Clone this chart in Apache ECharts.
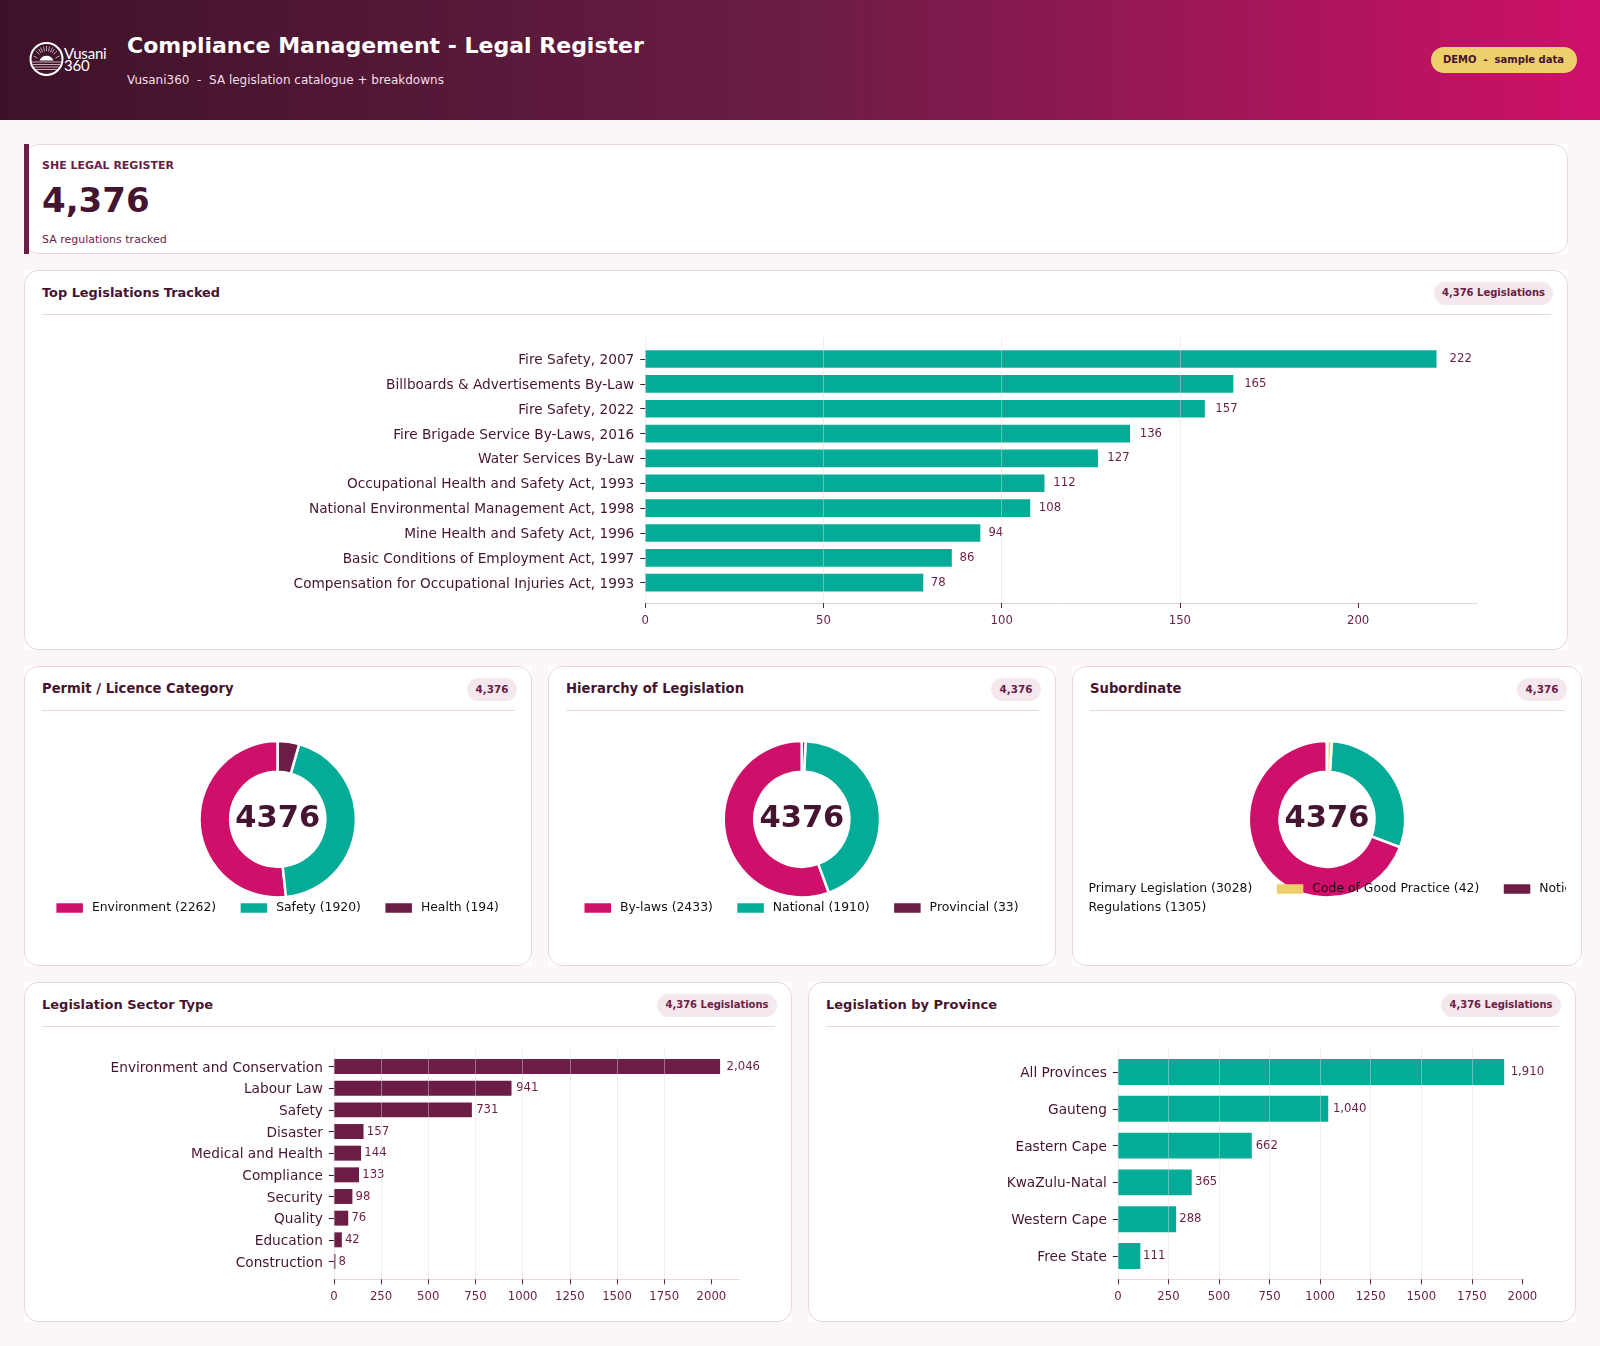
<!DOCTYPE html>
<html><head><meta charset="utf-8"><title>Compliance Management - Legal Register</title>
<script src="https://cdn.jsdelivr.net/npm/echarts@6/dist/echarts.min.js"></script>
<style>
html,body{margin:0;padding:0;width:1600px;height:1346px;overflow:hidden;background:#fbf7f9;font-family:"DejaVu Sans",sans-serif;}
.abs{position:absolute;white-space:pre;}
.hdr{position:absolute;left:0;top:0;width:1600px;height:120px;background:linear-gradient(90deg,#3d1228 0%,#6b1d45 50%,#cf106a 100%);}
.card{position:absolute;background:#fff;box-sizing:border-box;}
.card:before{content:"";position:absolute;inset:0;border:1px solid #e8d5de;border-radius:14px;box-sizing:border-box;}
.ttl{position:absolute;font-size:13px;font-weight:700;color:#451430;line-height:16px;white-space:pre;}
.pill{position:absolute;height:23px;border-radius:12px;background:#f4e8ee;color:#6b1d45;font-size:10px;font-weight:700;line-height:22px;text-align:center;white-space:pre;}
.div{position:absolute;height:1px;background:#e8d5de;}
.chart{position:absolute;}
</style></head><body>
<div class="hdr"></div>
<svg class="abs" style="left:28px;top:40px" width="40" height="40" viewBox="0 0 40 40">
<circle cx="18.5" cy="19" r="16" fill="none" stroke="#fff" stroke-width="2"/>
<g stroke="#d8c4cf" stroke-width="0.8" fill="none">
<path d="M18.5 11V6M14.5 12L12.5 7.5M22.5 12L24.5 7.5M11.5 14.5L8 11M25.5 14.5L29 11M9.5 18L5.5 16M27.5 18L31.5 16M16.5 11.5L15.5 6.5M20.5 11.5L21.5 6.5M13 13L10.5 9M24 13L26.5 9"/>
</g>
<path d="M11.5 20.5a7.5 7.5 0 0 1 14 0z" fill="#fff"/>
<g stroke="#c9aebc" stroke-width="1"><path d="M4 22H33M4.5 24.5H32.5M6 27H31M8 29.5H29"/></g>
</svg>
<div class="abs" style="left:64px;top:47px;font:400 15px/12px Lato,sans-serif;color:#fff;letter-spacing:-.2px">Vusani
360</div>
<div class="abs" style="left:127px;top:32px;font-size:22px;font-weight:700;line-height:28px;color:#fff">Compliance Management - Legal Register</div>
<div class="abs" style="left:127px;top:72px;font-size:12px;line-height:16px;color:#f3dfe9">Vusani360  -  SA legislation catalogue + breakdowns</div>
<div class="abs" style="left:1431px;top:47px;width:145px;height:26px;padding-right:1px;border-radius:13px;background:#edcf6b;color:#451430;font-size:10px;font-weight:700;line-height:26px;text-align:center">DEMO  -  sample data</div>

<div class="card" style="left:24px;top:144px;width:1544px;height:110px"></div>
<div class="abs" style="left:24px;top:144px;width:5px;height:110px;background:#6b1d45"></div>
<div class="abs" style="left:42px;top:158px;font-size:11px;font-weight:700;line-height:16px;color:#6b1d45">SHE LEGAL REGISTER</div>
<div class="abs" style="left:42px;top:180px;font-size:34px;font-weight:700;line-height:40px;color:#451430">4,376</div>
<div class="abs" style="left:42px;top:232px;font-size:11px;line-height:16px;color:#6b1d45">SA regulations tracked</div>

<div class="card" style="left:24px;top:270px;width:1544px;height:380px"></div>
<div class="ttl" style="left:42px;top:285px;font-size:12.9px">Top Legislations Tracked</div>
<div class="pill" style="left:1434px;top:282px;width:119px">4,376 Legislations</div>
<div class="div" style="left:42px;top:314px;width:1509px"></div>
<div class="chart" id="topChart" style="left:24px;top:270px;width:1544px;height:380px"></div>

<div class="card" style="left:24px;top:666px;width:508px;height:300px"></div>
<div class="ttl" style="left:42px;top:681px;font-size:13.2px">Permit / Licence Category</div>
<div class="pill" style="left:467px;top:678px;width:50px;font-size:10.4px">4,376</div>
<div class="div" style="left:42px;top:710px;width:473px"></div>
<div class="chart" id="permitChart" style="left:24px;top:666px;width:508px;height:300px"></div>

<div class="card" style="left:548px;top:666px;width:508px;height:300px"></div>
<div class="ttl" style="left:566px;top:681px;font-size:13.2px">Hierarchy of Legislation</div>
<div class="pill" style="left:991px;top:678px;width:50px;font-size:10.4px">4,376</div>
<div class="div" style="left:566px;top:710px;width:473px"></div>
<div class="chart" id="hierChart" style="left:548px;top:666px;width:508px;height:300px"></div>

<div class="card" style="left:1072px;top:666px;width:510px;height:300px"></div>
<div class="ttl" style="left:1090px;top:681px;font-size:13.2px">Subordinate</div>
<div class="pill" style="left:1517px;top:678px;width:50px;font-size:10.4px">4,376</div>
<div class="div" style="left:1090px;top:710px;width:475px"></div>
<div class="chart" id="subChart" style="left:1000px;top:666px;width:700px;height:300px;clip-path:inset(0 134.5px 0 87px)"></div>

<div class="card" style="left:24px;top:982px;width:768px;height:340px"></div>
<div class="ttl" style="left:42px;top:997px">Legislation Sector Type</div>
<div class="pill" style="left:657px;top:994px;width:120px">4,376 Legislations</div>
<div class="div" style="left:42px;top:1026px;width:733px"></div>
<div class="chart" id="sectorChart" style="left:24px;top:982px;width:768px;height:340px"></div>

<div class="card" style="left:808px;top:982px;width:768px;height:340px"></div>
<div class="ttl" style="left:826px;top:997px">Legislation by Province</div>
<div class="pill" style="left:1441px;top:994px;width:120px">4,376 Legislations</div>
<div class="div" style="left:826px;top:1026px;width:733px"></div>
<div class="chart" id="provChart" style="left:808px;top:982px;width:768px;height:340px"></div>

<script>
// ---- data ----
const topCategories = ["Fire Safety, 2007","Billboards & Advertisements By-Law","Fire Safety, 2022","Fire Brigade Service By-Laws, 2016","Water Services By-Law","Occupational Health and Safety Act, 1993","National Environmental Management Act, 1998","Mine Health and Safety Act, 1996","Basic Conditions of Employment Act, 1997","Compensation for Occupational Injuries Act, 1993"];
const topValues = [222,165,157,136,127,112,108,94,86,78];
const topTicks = [0,50,100,150,200];

const sectorCategories = ["Environment and Conservation","Labour Law","Safety","Disaster","Medical and Health","Compliance","Security","Quality","Education","Construction"];
const sectorValues = [2046,941,731,157,144,133,98,76,42,8];
const sectorTicks = [0,250,500,750,1000,1250,1500,1750,2000];

const provinceCategories = ["All Provinces","Gauteng","Eastern Cape","KwaZulu-Natal","Western Cape","Free State"];
const provinceValues = [1910,1040,662,365,288,111];
const provinceTicks = [0,250,500,750,1000,1250,1500,1750,2000];

const permitNames = ["Environment","Safety","Health"];
const permitValues = [2262,1920,194];
const hierarchyNames = ["By-laws","National","Provincial"];
const hierarchyValues = [2433,1910,33];
const subordinateNames = ["Primary Legislation","Regulations","Code of Good Practice","Notices"];
const subordinateValues = [3028,1305,42,1];
const totalCount = 4376;

// ---- style ----
const FONT = '"DejaVu Sans", sans-serif';
const PINK='#cf106a', TEAL='#04ac98', MAROON='#6b1d45', GOLD='#edcf6b', DARK='#451430', LINE='#e8d5de';

function barChart(id, cats, vals, ticks, color, L){
  const c = echarts.init(document.getElementById(id), null, {renderer:'canvas'});
  c.setOption({
    animation:false,
    grid:[
      {left:L.left, width:L.width, top:L.top, height:L.height},
      {left:L.left, width:L.width, top:L.bandTop, height:L.bandHeight}
    ],
    xAxis:[
      {gridIndex:0,type:'value',min:0,max:L.max,interval:L.interval,z:3,
       axisLine:{show:true,onZero:false,lineStyle:{color:LINE,width:1}},
       axisTick:{show:true,length:5,customValues:ticks,lineStyle:{color:MAROON,width:1}},
       axisLabel:{fontFamily:FONT,fontSize:11.7,color:MAROON,margin:11.5,customValues:ticks,hideOverlap:false,formatter:v=>String(v)},
       splitLine:{show:true,showMaxLine:false,lineStyle:{color:'rgba(225,215,220,0.45)',width:1}}},
      {gridIndex:1,type:'value',min:0,max:L.max,show:false,splitLine:{show:false}}
    ],
    yAxis:[
      {gridIndex:0,type:'value',min:0,max:1,show:false,splitLine:{show:false}},
      {gridIndex:1,type:'category',inverse:true,data:cats,
       axisLine:{show:false},
       axisTick:{show:true,length:5,alignWithLabel:true,lineStyle:{color:'#3d1228',width:1}},
       axisLabel:{fontFamily:FONT,fontSize:13.7,color:DARK,margin:11,interval:0,verticalAlign:'top',lineHeight:3},
       splitLine:{show:false}}
    ],
    series:[{type:'bar',xAxisIndex:1,yAxisIndex:1,barCategoryGap:L.gap,itemStyle:{color},
      data:vals.map(v=>({value:v,label:{distance:L.labelBase+L.labelK*v/vals[0]}})),
      label:{show:true,position:'right',fontFamily:FONT,fontSize:11.7,color:MAROON,offset:[0,0],
        formatter:p=>p.value.toLocaleString('en-US')}}]
  });
}

barChart('topChart',topCategories,topValues,topTicks,TEAL,{left:621.3,width:832.2,top:68,height:265,bandTop:76.6,bandHeight:248.5,max:233.5,interval:50,gap:'29%',labelBase:4.5,labelK:8.5});
barChart('sectorChart',sectorCategories,sectorValues,sectorTicks,MAROON,{left:309.9,width:405.5,top:67.3,height:230,bandTop:73.7,bandHeight:216.6,max:2148.3,interval:250,gap:'31%',labelBase:3,labelK:3.5});
barChart('provChart',provinceCategories,provinceValues,provinceTicks,TEAL,{left:309.9,width:405.6,top:67.3,height:230,bandTop:71.6,bandHeight:220.8,max:2005.5,interval:250,gap:'29.5%',labelBase:2.5,labelK:4});

function donut(id, names, vals, colors, L){
  const c = echarts.init(document.getElementById(id), null, {renderer:'canvas'});
  const labelled = names.map((n,i)=>n+' ('+vals[i]+')');
  const legendBase = {icon:'rect',itemWidth:26.5,itemHeight:9.5,itemGap:24.5,selectedMode:false,padding:0,
    itemStyle:{borderWidth:0},
    textStyle:{fontFamily:FONT,fontSize:12.4,color:'#111',padding:[0,0,0,4]}};
  c.setOption({
    animation:false,
    legend:L.rows.map(r=>Object.assign({},legendBase,{data:r.order.map(i=>labelled[i]),top:r.top},r.left==null?{left:L.lx}:{left:r.left})),
    series:[{type:'pie',center:[L.cx,L.cy],radius:[47.5,78.2],startAngle:90,clockwise:false,
      label:{show:false},labelLine:{show:false},emphasis:{disabled:true},
      itemStyle:{borderColor:'#fff',borderWidth:2.5},
      data:labelled.map((n,i)=>({name:n,value:vals[i],itemStyle:{color:colors[i]}}))}],
    graphic:[{type:'text',x:L.cx,y:L.cy,z:10,silent:true,style:{text:String(totalCount),x:0,y:0,align:'center',verticalAlign:'middle',
      fontFamily:FONT,fontSize:30.5,fontWeight:700,fill:DARK}}]
  });
}
donut('permitChart',permitNames,permitValues,[PINK,TEAL,MAROON],{cx:253.7,cy:153.3,lx:32.4,rows:[{order:[0,1,2],top:236}]});
donut('hierChart',hierarchyNames,hierarchyValues,[PINK,TEAL,MAROON],{cx:253.9,cy:153.3,lx:36.5,rows:[{order:[0,1,2],top:236}]});
donut('subChart',subordinateNames,subordinateValues,[PINK,TEAL,GOLD,MAROON],{cx:327,cy:153.3,rows:[{order:[0,2,3],top:217,left:53},{order:[1],top:236,left:53}]});
</script>
</body></html>
